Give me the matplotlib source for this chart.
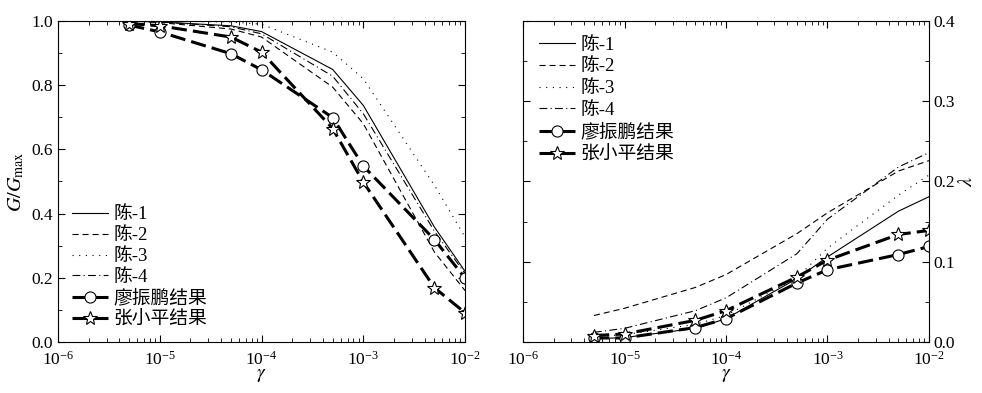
import matplotlib
matplotlib.use('Agg')
import matplotlib.pyplot as plt
from matplotlib.ticker import MultipleLocator

plt.rcParams['font.family'] = ['Liberation Serif', 'Noto Sans CJK SC']
plt.rcParams['mathtext.fontset'] = 'stix'
plt.rcParams['font.size'] = 12.5

# shear strain levels
strain = [5e-6, 1e-5, 5e-5, 1e-4, 5e-4, 1e-3, 5e-3, 1e-2]

# G/Gmax curves
g_chen1 = [1.0, 0.997, 0.985, 0.967, 0.849, 0.737, 0.358, 0.220]
g_chen2 = [1.0, 0.995, 0.975, 0.950, 0.794, 0.680, 0.280, 0.160]
g_chen3 = [1.0, 0.999, 0.997, 0.990, 0.903, 0.820, 0.488, 0.327]
g_chen4 = [1.0, 0.997, 0.982, 0.960, 0.828, 0.711, 0.345, 0.213]
g_liao = [0.987, 0.966, 0.898, 0.848, 0.699, 0.548, 0.319, 0.199]
g_zhang = [0.992, 0.985, 0.950, 0.903, 0.665, 0.498, 0.169, 0.091]

# damping ratio curves
d_chen1 = [0.004, 0.0055, 0.017, 0.029, 0.079, 0.106, 0.163, 0.181]
d_chen2 = [0.033, 0.042, 0.068, 0.084, 0.135, 0.161, 0.213, 0.226]
d_chen3 = [0.007, 0.009, 0.022, 0.033, 0.080, 0.117, 0.183, 0.208]
d_chen4 = [0.012, 0.017, 0.039, 0.055, 0.110, 0.153, 0.218, 0.236]
d_liao = [0.005, 0.005, 0.018, 0.029, 0.0735, 0.090, 0.109, 0.119]
d_zhang = [0.008, 0.010, 0.027, 0.039, 0.081, 0.102, 0.134, 0.139]

labels = ['陈-1', '陈-2', '陈-3', '陈-4', '廖振鹏结果', '张小平结果']

thin = dict(color='black', lw=0.8)
styles = [
    dict(ls='-', **thin),
    dict(ls=(0, (5.5, 3.5)), **thin),
    dict(ls=(0, (1, 5)), **thin),
    dict(ls=(0, (7, 3, 1, 3)), **thin),
    dict(ls=(0, (5, 2)), color='black', lw=2.2, marker='o', ms=8,
         mfc='white', mec='black', mew=0.8),
    dict(ls=(0, (5, 2)), color='black', lw=2.2, marker='*', ms=10.5,
         mfc='white', mec='black', mew=0.8),
]

legend_kw = dict(frameon=False, fontsize=13.5, handlelength=1.95, handletextpad=0.25,
                 borderpad=0, borderaxespad=0)


def style_axis(ax):
    ax.set_xscale('log')
    ax.set_xlim(1e-6, 1e-2)
    ax.tick_params(which='both', direction='in', top=True, right=True, left=True)
    ax.tick_params(which='major', length=5, width=0.8)
    ax.tick_params(which='minor', length=3, width=0.6)
    ax.tick_params(axis='x', which='major', pad=6)
    for sp in ax.spines.values():
        sp.set_linewidth(0.8)
    ax.set_xlabel(r'$\gamma$', fontsize=14, labelpad=-1)


fig = plt.figure(figsize=(9.82, 3.93), dpi=100)
ax1 = fig.add_axes([0.0591, 0.1298, 0.4145, 0.8168])
ax2 = fig.add_axes([0.5326, 0.1298, 0.4134, 0.8168])

for ys, st, lab in zip([g_chen1, g_chen2, g_chen3, g_chen4, g_liao, g_zhang], styles, labels):
    ax1.plot(strain, ys, label=lab, **st)
style_axis(ax1)
ax1.set_ylim(0, 1.0)
ax1.yaxis.set_major_locator(MultipleLocator(0.2))
ax1.yaxis.set_minor_locator(MultipleLocator(0.1))
ax1.set_ylabel(r'$G/G_{\rm max}$', fontsize=14.5, labelpad=4)
ax1.legend(loc='lower left', bbox_to_anchor=(0.034, 0.042), labelspacing=0.2, **legend_kw)

for ys, st, lab in zip([d_chen1, d_chen2, d_chen3, d_chen4, d_liao, d_zhang], styles, labels):
    ax2.plot(strain, ys, label=lab, **st)
style_axis(ax2)
ax2.set_ylim(0, 0.4)
ax2.yaxis.set_major_locator(MultipleLocator(0.1))
ax2.yaxis.set_minor_locator(MultipleLocator(0.05))
ax2.yaxis.tick_right()
ax2.tick_params(which='both', direction='in', left=True, right=True)
ax2.yaxis.set_label_position('right')
ax2.set_ylabel(r'$\lambda$', fontsize=14.5, labelpad=2)
ax2.legend(loc='upper left', bbox_to_anchor=(0.039, 0.952), labelspacing=0.25, **legend_kw)

fig.savefig('out.png', dpi=100)
